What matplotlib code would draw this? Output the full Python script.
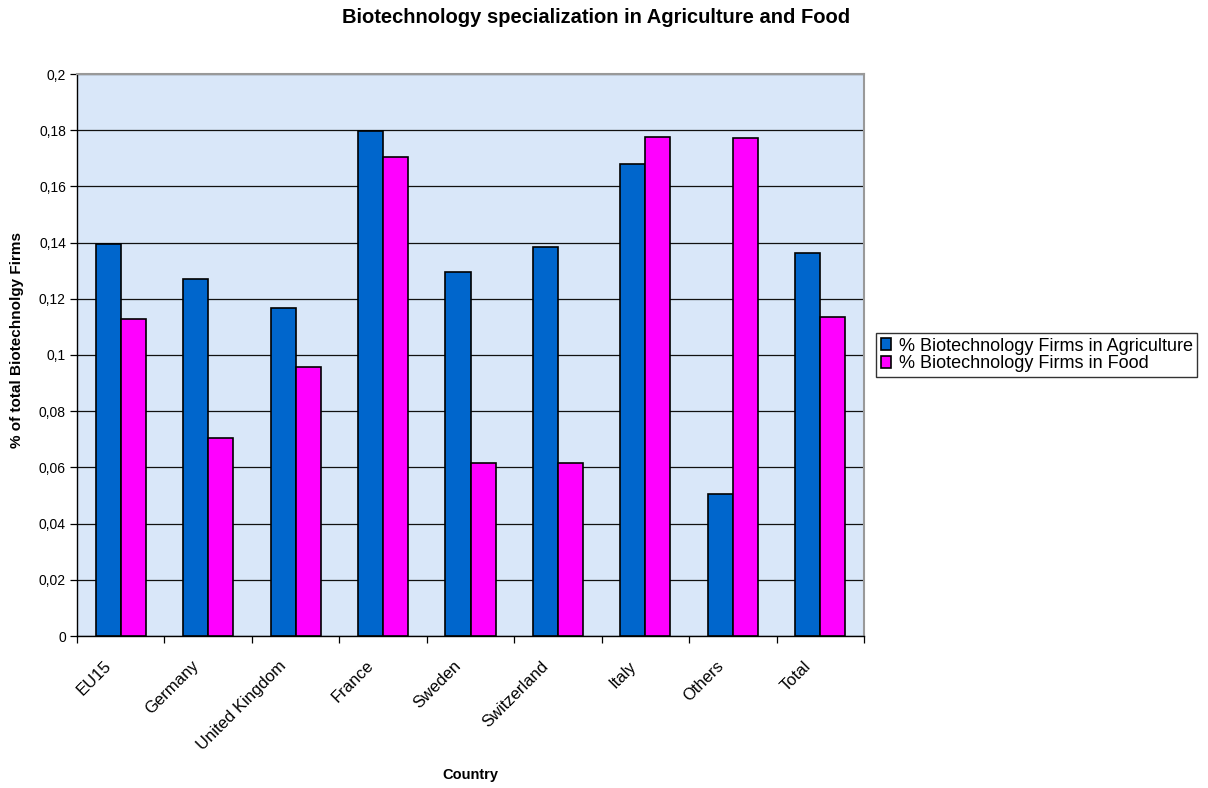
import matplotlib
matplotlib.use("Agg")
import matplotlib.pyplot as plt
import numpy as np
from matplotlib.ticker import FixedLocator, FuncFormatter
from matplotlib.transforms import ScaledTranslation

countries = ["EU15", "Germany", "United Kingdom", "France", "Sweden",
             "Switzerland", "Italy", "Others", "Total"]
agriculture = [0.1395, 0.1269, 0.1169, 0.1798, 0.1296, 0.1383, 0.1681, 0.0506, 0.1363]
food = [0.1129, 0.0705, 0.0957, 0.1706, 0.0616, 0.0614, 0.1776, 0.1771, 0.1136]
series_names = ["% Biotechnology Firms in Agriculture", "% Biotechnology Firms in Food"]
yticks = [0, 0.02, 0.04, 0.06, 0.08, 0.1, 0.12, 0.14, 0.16, 0.18, 0.2]

plt.rcParams['font.family'] = ['Liberation Sans', 'DejaVu Sans']

fig = plt.figure(figsize=(12.08, 7.88), dpi=100)
W, H = 1208, 788
left, right, top, bottom = 77, 864, 74, 636
ax = fig.add_axes([left / W, 1 - bottom / H, (right - left) / W, (bottom - top) / H])

ax.set_facecolor("#d9e7f9")
x = np.arange(len(countries))
bw = 0.286
ax.bar(x - bw / 2, agriculture, width=bw, color="#0066cc", edgecolor="black",
       linewidth=1.2, label=series_names[0], zorder=3)
ax.bar(x + bw / 2, food, width=bw, color="#ff00ff", edgecolor="black",
       linewidth=1.2, label=series_names[1], zorder=3)

ax.set_xlim(-0.5, len(countries) - 0.5)
ax.set_ylim(0, 0.2)
ax.yaxis.set_major_locator(FixedLocator(yticks))

def fmt(v, pos):
    if abs(v) < 1e-12:
        return "0"
    s = ("%.2f" % v).rstrip("0").rstrip(".")
    return s.replace(".", ",")
ax.yaxis.set_major_formatter(FuncFormatter(fmt))
ax.grid(axis="y", color="#111111", linewidth=0.9, zorder=1)

ax.set_xticks(x)
ax.set_xticklabels(countries, rotation=45, ha="right", va="top",
                   rotation_mode="anchor", fontsize=12)
ax.tick_params(axis="x", which="major", length=0, pad=16)
offset = ScaledTranslation(-17 / 100, 0, fig.dpi_scale_trans)
for lbl in ax.get_xticklabels():
    lbl.set_transform(lbl.get_transform() + offset)
ax.set_xticks(np.arange(-0.5, len(countries) + 0.5, 1), minor=True)
ax.tick_params(axis="x", which="minor", length=5, width=0.9, direction="out")
ax.tick_params(axis="y", length=5, width=0.9, direction="out", labelsize=10, pad=3)

for side in ["top", "right"]:
    ax.spines[side].set_color("#999999")
    ax.spines[side].set_linewidth(1.5)
for side in ["left", "bottom"]:
    ax.spines[side].set_color("black")
    ax.spines[side].set_linewidth(1.0)

fig.text(17 / W, 1 - 340 / H, "% of total Biotechnolgy Firms", rotation=90,
         ha="center", va="center", fontsize=11, fontweight="bold")
fig.text(470 / W, 1 - 775 / H, "Country", ha="center", va="center",
         fontsize=10.5, fontweight="bold")
fig.text(596 / W, 1 - 23 / H, "Biotechnology specialization in Agriculture and Food",
         ha="center", va="baseline", fontsize=14.5, fontweight="bold")

leg = fig.legend(loc="center left", bbox_to_anchor=(876 / W, 1 - 355 / H),
                 frameon=True, fancybox=False, fontsize=13, handlelength=0.6,
                 handleheight=0.6, handletextpad=0.4, borderpad=0.25,
                 labelspacing=0.05, borderaxespad=0)
leg.get_frame().set_edgecolor("black")
leg.get_frame().set_linewidth(1.0)

fig.savefig("out.png", dpi=100)
